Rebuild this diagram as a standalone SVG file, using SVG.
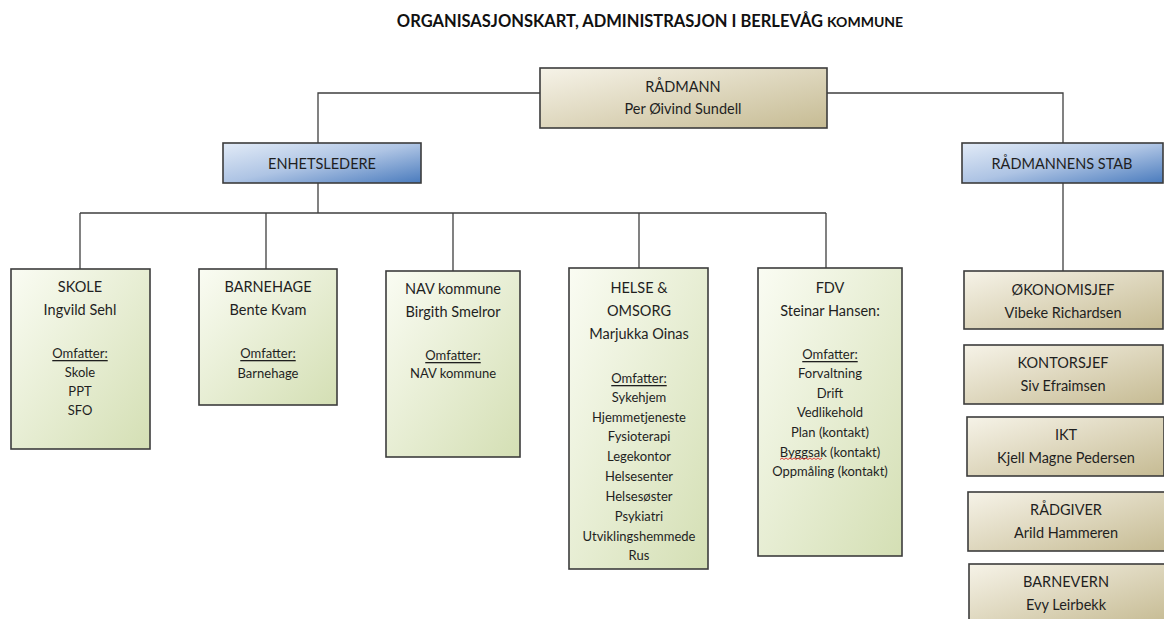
<svg xmlns="http://www.w3.org/2000/svg" width="1164" height="619" viewBox="0 0 1164 619">
<defs>
<linearGradient id="gTan" x1="0" y1="0" x2="1" y2="1">
<stop offset="0" stop-color="#f6f3e8"/><stop offset="1" stop-color="#c6bb93"/>
</linearGradient>
<linearGradient id="gBlue" x1="0" y1="0" x2="1" y2="1">
<stop offset="0" stop-color="#e2ebf7"/><stop offset="0.5" stop-color="#aec4e4"/><stop offset="1" stop-color="#4a7bbd"/>
</linearGradient>
<linearGradient id="gGreen" x1="0" y1="0" x2="1" y2="1">
<stop offset="0" stop-color="#fafcf3"/><stop offset="1" stop-color="#d4dfb4"/>
</linearGradient>
</defs>
<style>
.box{stroke:#3c3c3c;stroke-width:1.6}
.tan{fill:url(#gTan)}
.blue{fill:url(#gBlue)}
.green{fill:url(#gGreen)}
.conn{stroke:#3f3f3f;stroke-width:1.3;fill:none}
text{font-family:Lato,"Liberation Sans",sans-serif;fill:#1f1f1f;text-anchor:middle;dominant-baseline:central}
.h{font-size:14.5px}
.i{font-size:13px}
.u{font-size:13px;text-decoration:underline}
.title{font-weight:bold;font-size:16.5px;fill:#111;dominant-baseline:auto}
</style>
<rect width="1164" height="619" fill="#ffffff"/>
<text class="title" x="650" y="27">ORGANISASJONSKART, ADMINISTRASJON I BERLEVÅG <tspan font-size="14px">KOMMUNE</tspan></text>
<g id="connectors">
<path class="conn" d="M540 93 H318 V143"/>
<path class="conn" d="M827 93 H1063 V143"/>
<path class="conn" d="M318 183 V213 M80 213 H826 M80 213 V269 M266 213 V269 M453 213 V271 M639 213 V268 M826 213 V268"/>
<path class="conn" d="M1063 183 V271"/>
</g>
<g id="radmann"><rect class="box tan" x="540" y="68" width="287" height="60"/>
<text class="h" x="683" y="86">RÅDMANN</text><text class="h" x="683" y="108">Per Øivind Sundell</text></g>
<g id="enhetsledere"><rect class="box blue" x="223" y="143" width="198" height="40"/>
<text class="h" x="322" y="163">ENHETSLEDERE</text></g>
<g id="stab"><rect class="box blue" x="962" y="143" width="201" height="40"/>
<text class="h" x="1062" y="163">RÅDMANNENS STAB</text></g>
<g id="skole"><rect class="box green" x="11" y="269" width="139" height="180"/>
<text class="h" x="80" y="286">SKOLE</text><text class="h" x="80" y="309">Ingvild Sehl</text>
<text class="u" x="80" y="353">Omfatter:</text><text class="i" x="80" y="372">Skole</text><text class="i" x="80" y="391">PPT</text><text class="i" x="80" y="410">SFO</text></g>
<g id="barnehage"><rect class="box green" x="199" y="269" width="138" height="136"/>
<text class="h" x="268" y="286">BARNEHAGE</text><text class="h" x="268" y="309">Bente Kvam</text>
<text class="u" x="268" y="353">Omfatter:</text><text class="i" x="268" y="373">Barnehage</text></g>
<g id="nav"><rect class="box green" x="386" y="271" width="134" height="186"/>
<text class="h" x="453" y="288">NAV kommune</text><text class="h" x="453" y="311">Birgith Smelror</text>
<text class="u" x="453" y="355">Omfatter:</text><text class="i" x="453" y="373">NAV kommune</text></g>
<g id="helse"><rect class="box green" x="569" y="268" width="139" height="301"/>
<text class="h" x="639" y="287">HELSE &amp;</text><text class="h" x="639" y="310">OMSORG</text><text class="h" x="639" y="333">Marjukka Oinas</text>
<text class="u" x="639" y="378">Omfatter:</text>
<text class="i" x="639" y="397">Sykehjem</text><text class="i" x="639" y="417">Hjemmetjeneste</text><text class="i" x="639" y="436">Fysioterapi</text><text class="i" x="639" y="456">Legekontor</text><text class="i" x="639" y="476">Helsesenter</text><text class="i" x="639" y="496">Helsesøster</text><text class="i" x="639" y="516">Psykiatri</text><text class="i" x="639" y="536">Utviklingshemmede</text><text class="i" x="639" y="555">Rus</text></g>
<g id="fdv"><rect class="box green" x="758" y="268" width="144" height="288"/>
<text class="h" x="830" y="287">FDV</text><text class="h" x="830" y="310">Steinar Hansen:</text>
<text class="u" x="830" y="354">Omfatter:</text>
<text class="i" x="830" y="373">Forvaltning</text><text class="i" x="830" y="393">Drift</text><text class="i" x="830" y="412">Vedlikehold</text><text class="i" x="830" y="432">Plan (kontakt)</text><text class="i" x="830" y="452">Byggsak (kontakt)</text><text class="i" x="830" y="471">Oppmåling (kontakt)</text>
<path d="M780 459.5 l2 -1.5 l2 1.5 l2 -1.5 l2 1.5 l2 -1.5 l2 1.5 l2 -1.5 l2 1.5 l2 -1.5 l2 1.5 l2 -1.5 l2 1.5 l2 -1.5 l2 1.5 l2 -1.5 l2 1.5 l2 -1.5 l2 1.5 l2 -1.5 l2 1.5 l2 -1.5" fill="none" stroke="#e03030" stroke-width="0.9"/></g>
<g id="okonomi"><rect class="box tan" x="964" y="271" width="199" height="58"/>
<text class="h" x="1063" y="289">ØKONOMISJEF</text><text class="h" x="1063" y="312">Vibeke Richardsen</text></g>
<g id="kontor"><rect class="box tan" x="964" y="345" width="199" height="59"/>
<text class="h" x="1063" y="362">KONTORSJEF</text><text class="h" x="1063" y="385">Siv Efraimsen</text></g>
<g id="ikt"><rect class="box tan" x="967" y="417" width="197" height="59"/>
<text class="h" x="1066" y="434">IKT</text><text class="h" x="1066" y="457">Kjell Magne Pedersen</text></g>
<g id="radgiver"><rect class="box tan" x="968" y="492" width="197" height="59"/>
<text class="h" x="1066" y="509">RÅDGIVER</text><text class="h" x="1066" y="532">Arild Hammeren</text></g>
<g id="barnevern"><rect class="box tan" x="969" y="564" width="197" height="60"/>
<text class="h" x="1066" y="581">BARNEVERN</text><text class="h" x="1066" y="604">Evy Leirbekk</text></g>
</svg>
